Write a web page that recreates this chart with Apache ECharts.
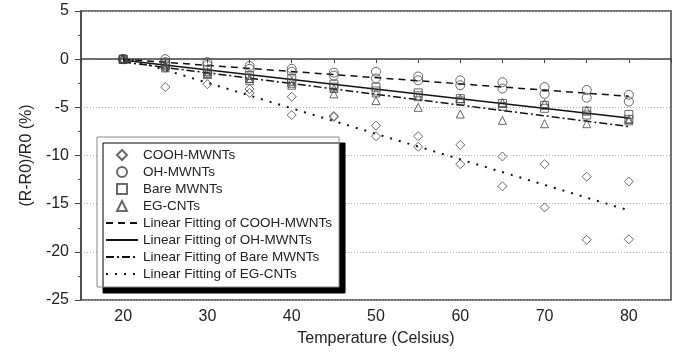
<!DOCTYPE html>
<html>
<head>
<meta charset="UTF-8">
<title>Resistance change vs temperature</title>
<script src="https://cdn.jsdelivr.net/npm/echarts@6/dist/echarts.min.js"></script>
<style>
  html, body { margin: 0; padding: 0; background: #fff; }
  #chart { width: 687px; height: 360px; }
</style>
</head>
<body>
<div id="chart"></div>
<script>
// temperatures (Celsius), each sample measured twice
const temps = [20, 25, 30, 35, 40, 45, 50, 55, 60, 65, 70, 75, 80];

const coohA = [0, -0.9, -1.4, -3.1, -3.9, -5.9, -6.9, -8.0, -8.9, -10.1, -10.9, -12.2, -12.7];
const coohB = [0, -2.9, -2.6, -3.5, -5.8, -6.0, -8.0, -9.1, -10.9, -13.2, -15.4, -18.75, -18.7];

const ohA = [0, 0, -0.3, -0.7, -1.0, -1.4, -1.3, -1.8, -2.2, -2.4, -2.9, -3.2, -3.7];
const ohB = [0, -0.3, -0.6, -1.0, -1.3, -1.7, -2.0, -2.2, -2.7, -3.05, -3.6, -4.0, -4.4];

const bareA = [0, -0.5, -1.1, -1.7, -2.0, -2.6, -2.9, -3.5, -4.1, -4.6, -4.8, -5.4, -5.75];
const bareB = [0, -0.7, -1.5, -2.0, -2.5, -2.9, -3.3, -3.8, -4.35, -4.9, -5.1, -5.8, -6.25];

const egA = [0, -0.6, -1.3, -2.0, -2.3, -3.05, -3.5, -3.9, -4.1, -4.5, -4.6, -5.3, -6.2];
const egB = [0, -0.9, -1.6, -2.2, -2.7, -3.6, -4.3, -5.0, -5.7, -6.35, -6.7, -6.7, -6.4];

// linear fits, value at 20 and 80 C
const fitX = [20, 80];
const fitCooh = [0, -3.85];
const fitOh = [-0.1, -6.1];
const fitBare = [-0.3, -7.0];
const fitEg = [0.2, -15.7];

const xTicks = [20, 30, 40, 50, 60, 70, 80];

const font = 'Arial, "Liberation Sans", sans-serif';
const markColor = '#444';

// path icons keep their aspect in the legend (built-in symbols get stretched)
const icons = {
  diamond: 'path://M0,-1L1,0L0,1L-1,0Z',
  circle: 'path://M1,0A1,1,0,1,1,-1,0A1,1,0,1,1,1,0Z',
  rect: 'path://M0,0H1V1H0Z',
  triangle: 'path://M0.5,0L1,1L0,1Z'
};

function pairs(a, b) {
  const out = temps.map((t, i) => [t, a[i]]);
  return out.concat(temps.map((t, i) => [t, b[i]]));
}
function fit(vals) {
  return fitX.map((x, i) => [x, vals[i]]);
}
function scatter(name, symbol, size, a, b) {
  return {
    name: name,
    type: 'scatter',
    symbol: symbol,
    symbolSize: size,
    data: pairs(a, b),
    itemStyle: { color: 'rgba(0,0,0,0)', borderColor: markColor, borderWidth: 1 },
    z: 3
  };
}
function line(name, type, width, vals) {
  return {
    name: name,
    type: 'line',
    symbol: 'none',
    data: fit(vals),
    itemStyle: { color: '#111' },
    lineStyle: { color: '#111', width: width, type: type },
    z: 2
  };
}

const series = [
  scatter('COOH-MWNTs', 'diamond', 9, coohA, coohB),
  scatter('OH-MWNTs', 'circle', 9, ohA, ohB),
  scatter('Bare MWNTs', 'rect', 8, bareA, bareB),
  scatter('EG-CNTs', 'triangle', 8, egA, egB),
  line('Linear Fitting of COOH-MWNTs', [7, 5], 1.5, fitCooh),
  line('Linear Fitting of OH-MWNTs', 'solid', 1.5, fitOh),
  line('Linear Fitting of Bare MWNTs', [8, 3, 2, 3], 1.5, fitBare),
  line('Linear Fitting of EG-CNTs', [2, 7], 2, fitEg)
];

const legendData = series.map(s => s.type === 'scatter'
  ? { name: s.name, icon: icons[s.symbol] }
  : { name: s.name, itemStyle: { opacity: 0 } });

const chart = echarts.init(document.getElementById('chart'));
chart.setOption({
  animation: false,
  grid: {
    left: 81, top: 11, right: 16, bottom: 60,
    show: true, borderColor: '#444', borderWidth: 1.5
  },
  legend: {
    orient: 'vertical',
    left: 97, top: 137,
    padding: [10, 7, 5, 8],
    itemWidth: 32, itemHeight: 10, itemGap: 1,
    backgroundColor: '#fff',
    borderColor: '#888', borderWidth: 1,
    shadowColor: '#000', shadowBlur: 0, shadowOffsetX: 6, shadowOffsetY: 6,
    textStyle: { fontFamily: font, fontSize: 13.5, color: '#222', lineHeight: 16 },
    data: legendData
  },
  xAxis: {
    type: 'value', min: 15, max: 85, interval: 5,
    name: 'Temperature (Celsius)', nameLocation: 'middle', nameGap: 31,
    nameTextStyle: { fontFamily: font, fontSize: 16, color: '#222' },
    axisLine: { lineStyle: { color: '#444', width: 1.5 } },
    axisTick: { length: 4, lineStyle: { color: '#444' } },
    axisLabel: {
      fontFamily: font, fontSize: 16, color: '#222', margin: 9,
      formatter: v => xTicks.indexOf(v) >= 0 ? String(v) : ''
    },
    splitLine: { show: false }
  },
  yAxis: {
    type: 'value', min: -25, max: 5, interval: 5,
    name: '(R-R0)/R0 (%)', nameLocation: 'middle', nameGap: 44,
    nameTextStyle: { fontFamily: font, fontSize: 16, color: '#222' },
    axisLine: { show: true, lineStyle: { color: '#444', width: 1.5 } },
    axisTick: { length: 6, lineStyle: { color: '#444' } },
    minorTick: { show: true, splitNumber: 2, length: 3, lineStyle: { color: '#444' } },
    axisLabel: { fontFamily: font, fontSize: 16, color: '#222', margin: 12 },
    splitLine: { lineStyle: { color: '#aaa', type: [1, 2], width: 1 } }
  },
  series: series
});
</script>
</body>
</html>
